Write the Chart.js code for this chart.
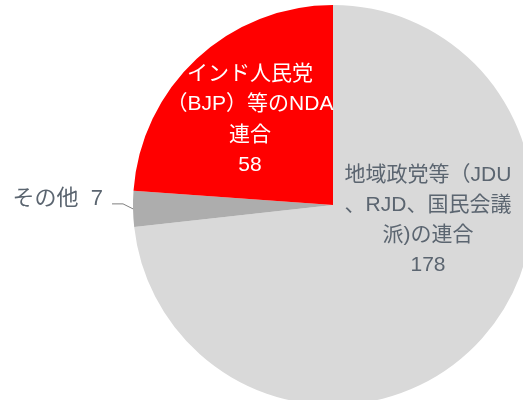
<!DOCTYPE html>
<html>
<head>
<meta charset="utf-8">
<script src="https://cdn.jsdelivr.net/npm/chart.js@4"></script>
<style>
  html, body { margin: 0; padding: 0; background: #fff; }
  #wrap { position: relative; width: 523px; height: 400px; overflow: hidden; }
  #c { position: absolute; left: 0; top: 0; }
</style>
</head>
<body>
<div id="wrap"><canvas id="c" width="666" height="410"></canvas></div>
<script>
// slices, clockwise from 12 o'clock
const categories = ['地域政党等（JDU、RJD、国民会議派)の連合', 'その他', 'インド人民党（BJP）等のNDA連合'];
const seats = [178, 7, 58];
const colors = ['#D9D9D9', '#ADADAD', '#FF0000'];

// label lines per slice (value appended at draw time)
const labelLines = [
  ['地域政党等（JDU', '、RJD、国民会議', '派)の連合'],
  ['その他'],
  ['インド人民党', '（BJP）等のNDA', '連合']
];

const FONT = '21px "Liberation Sans", "Noto Sans CJK JP", sans-serif';
const FONT_OUT = '22px "Liberation Sans", "Noto Sans CJK JP", sans-serif';
const TEXT_GRAY = '#5b6570';

// simple label plugin: text placed relative to the pie centre
const sliceLabels = {
  id: 'sliceLabels',
  afterDatasetsDraw(chart) {
    const ctx = chart.ctx;
    const meta = chart.getDatasetMeta(0);
    const arc = meta.data[0];
    const cx = arc.x, cy = arc.y, r = arc.outerRadius;
    ctx.save();
    ctx.font = FONT;
    ctx.textBaseline = 'middle';

    // big gray slice
    ctx.fillStyle = TEXT_GRAY;
    ctx.textAlign = 'center';
    let lines = labelLines[0].concat(String(seats[0]));
    lines.forEach((t, i) => ctx.fillText(t, cx + 95, cy - 30 + i * 30));

    // red slice
    ctx.fillStyle = '#ffffff';
    lines = labelLines[2].concat(String(seats[2]));
    lines.forEach((t, i) => ctx.fillText(t, cx - 83, cy - 131 + i * 30.5));

    // small slice, outside with leader line
    const small = meta.data[1];
    const mid = (small.startAngle + small.endAngle) / 2;
    const ex = cx + Math.cos(mid) * r, ey = cy + Math.sin(mid) * r;
    ctx.font = FONT_OUT;
    ctx.fillStyle = TEXT_GRAY;
    ctx.textAlign = 'right';
    ctx.fillText(labelLines[1][0] + '  ' + seats[1], ex - 30, ey - 10);
    ctx.strokeStyle = '#7f7f7f';
    ctx.lineWidth = 1;
    ctx.beginPath();
    ctx.moveTo(ex - 21, ey - 5);
    ctx.lineTo(ex - 10, ey - 5);
    ctx.lineTo(ex, ey);
    ctx.stroke();
    ctx.restore();
  }
};

new Chart(document.getElementById('c'), {
  type: 'pie',
  data: {
    labels: categories,
    datasets: [{ data: seats, backgroundColor: colors, borderWidth: 0 }]
  },
  options: {
    responsive: false,
    animation: false,
    layout: { padding: { top: 5, bottom: 5, left: 0, right: 0 } },
    plugins: { legend: { display: false }, tooltip: { enabled: false } }
  },
  plugins: [sliceLabels]
});
</script>
</body>
</html>
